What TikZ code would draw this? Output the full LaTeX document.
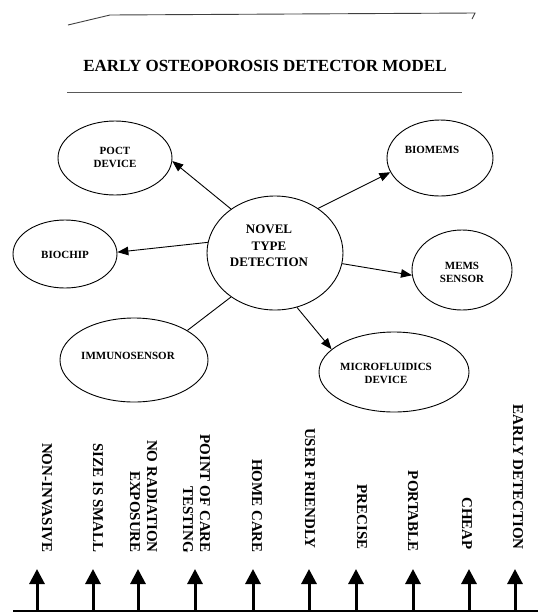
\documentclass[tikz,border=0pt]{standalone}
\usepackage{fontspec}
\setmainfont{Liberation Serif}
\usetikzlibrary{shapes.geometric,arrows.meta}
\begin{document}
\begin{tikzpicture}[x=1pt,y=-1pt,
  ell/.style={draw, ellipse, line width=0.9pt, inner sep=0pt},
  txt/.style={font=\bfseries\fontsize{11}{13}\selectfont, align=center, inner sep=0pt},
  bigtxt/.style={font=\bfseries\fontsize{13}{16.5}\selectfont, align=center, inner sep=0pt},
  vlab/.style={font=\bfseries\fontsize{15}{17}\selectfont, align=right, inner sep=0pt, rotate=-90, anchor=east},
  arr/.style={line width=0.9pt, -{Triangle[length=11pt,width=8.5pt]}},
  uparr/.style={line width=3pt, -{Triangle[length=15pt,width=15pt]}},
  scan/.style={black!75, line width=0.9pt}
]
\useasboundingbox (0,0) rectangle (538,614);

% scanned top edge and title rules
\coordinate (s1) at (68,25);
\coordinate (s2) at (110,15);
\coordinate (s3) at (475,13);
\coordinate (s4) at (472,19);
\draw[scan] (s1) -- (s2) -- (s3) -- (s4);
\node[font=\bfseries\fontsize{17}{20}\selectfont, inner sep=0pt] (title) at (265,66) {EARLY OSTEOPOROSIS DETECTOR MODEL};
\coordinate (r1) at (67,92);
\coordinate (r2) at (462,92);
\draw[scan, black!65] (r1) -- (r2);

% ellipses
\node[ell, minimum width=114pt, minimum height=74pt] (poct) at (115,158) {};
\node[ell, minimum width=104pt, minimum height=68pt] (biochip) at (65,254) {};
\node[ell, minimum width=136pt, minimum height=114pt] (c) at (275,253) {};
\node[ell, minimum width=106pt, minimum height=76pt] (biomems) at (440,158) {};
\node[ell, minimum width=100pt, minimum height=80pt] (mems) at (462,270) {};
\node[ell, minimum width=150pt, minimum height=80pt] (micro) at (394,372) {};
\node[ell, minimum width=148pt, minimum height=84pt] (immuno) at (134,360) {};

% ellipse texts
\node[txt] (tpoct) at (115,157) {POCT\\DEVICE};
\node[txt] (tbiochip) at (65,255) {BIOCHIP};
\node[bigtxt] (tc) at (269,246) {NOVEL\\TYPE\\DETECTION};
\node[txt] (tbiomems) at (432,150) {BIOMEMS};
\node[txt] (tmems) at (462,272) {MEMS\\SENSOR};
\node[txt] (tmicro) at (386,373) {MICROFLUIDICS\\DEVICE};
\node[txt] (timmuno) at (128,356) {IMMUNOSENSOR};

% connectors
\draw[arr] (c.135) -- (poct.-3);
\draw[arr] (c.171) -- (biochip.2);
\draw[arr] (c.46) -- (biomems.196);
\draw[arr] (c.-9) -- (mems.186);
\draw[arr] (c.-68) -- (micro.160);
\draw[line width=0.9pt] (c.225) -- (immuno.29);

% bottom labels
\node[vlab] (l1) at (47,553) {NON-INVASIVE};
\node[vlab] (l2) at (98,553) {SIZE IS SMALL};
\node[vlab] (l3) at (143.5,553) {NO RADIATION\\EXPOSURE};
\node[vlab] (l4) at (196.5,553) {POINT OF CARE\\TESTING};
\node[vlab] (l5) at (257,553) {HOME CARE};
\node[vlab] (l6) at (310,549) {USER FRIENDLY};
\node[vlab] (l7) at (362,550) {PRECISE};
\node[vlab] (l8) at (413,552) {PORTABLE};
\node[vlab] (l9) at (467,550) {CHEAP};
\node[vlab] (l10) at (518,550) {EARLY DETECTION};

% baseline and arrows
\coordinate (bl) at (13,611);
\coordinate (br) at (538,611);
\draw[line width=2.2pt] (bl) -- (br);
\foreach \i/\x in {1/37,2/93,3/138,4/195,5/253,6/309,7/356,8/413,9/469,10/515}{
  \coordinate (b\i) at (\x,611);
  \coordinate (t\i) at (\x,569);
  \draw[uparr] (b\i) -- (t\i);
}
\end{tikzpicture}
\end{document}
